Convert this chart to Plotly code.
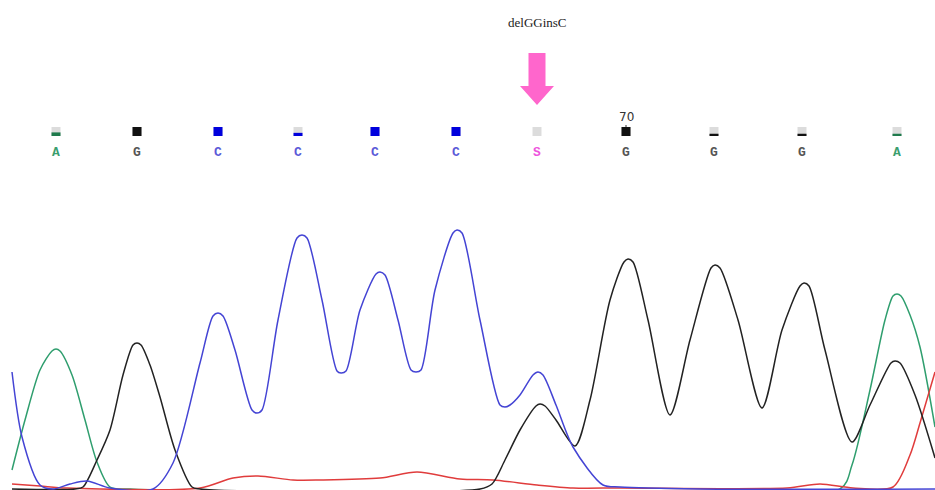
import plotly.graph_objects as go

H = 490  # plot height in intensity units (matches pixel rows)

# ---- base calls ----
base_pos = [56, 137, 218, 298, 375, 456, 537, 626, 714, 802, 897]
base_letters = ["A", "G", "C", "C", "C", "C", "S", "G", "G", "G", "A"]
base_quality = [0.4, 1.0, 1.0, 0.35, 1.0, 1.0, 0.0, 1.0, 0.25, 0.25, 0.25]
mutation_label = "delGGinsC"
position_label = "70"
position_index = 7

# ---- traces: (position, signal height) ----
blue_x = [12, 22, 40, 53, 70, 87, 110, 153, 173, 200, 213, 218, 223, 235, 252, 257, 262, 278, 297, 302, 307,
          322, 337, 341, 346, 360, 376, 380, 385, 398, 411, 416, 421, 435, 453, 457, 462, 480, 500, 505, 510,
          520, 533, 538, 543, 556, 573, 603, 620, 700, 935]
blue_y = [118, 53, 5, 1, 6, 9, 2, 1, 27, 127, 174, 177, 174, 140, 80, 77, 80, 170, 252, 255, 252,
          190, 119, 117, 119, 180, 216, 218, 215, 170, 120, 118, 120, 200, 257, 260, 257, 170, 85, 83, 85,
          95, 115, 118, 115, 85, 43, 5, 3, 1, 1]

green_x = [12, 25, 40, 52, 56, 60, 72, 85, 97, 110, 130, 840, 852, 870, 885, 893, 897, 901, 910, 920, 935]
green_y = [20, 70, 120, 139, 141, 139, 115, 70, 28, 3, 1, 1, 25, 100, 170, 194, 196, 194, 175, 143, 63]

black_x = [12, 75, 83, 97, 110, 123, 133, 137, 141, 150, 160, 175, 192, 200, 480, 492, 505, 520, 536, 540,
           545, 556, 575, 590, 610, 624, 628, 633, 648, 670, 690, 711, 715, 720, 738, 762, 782, 800, 804,
           809, 825, 852, 870, 891, 895, 900, 915, 935]
black_y = [1, 1, 3, 30, 60, 115, 145, 147, 145, 125, 93, 40, 3, 1, 1, 6, 30, 60, 84, 86,
           84, 70, 44, 90, 190, 228, 231, 228, 170, 75, 150, 222, 225, 222, 170, 82, 160, 204, 207,
           204, 140, 48, 85, 127, 129, 127, 95, 32]

red_x = [12, 40, 67, 200, 233, 258, 293, 320, 380, 417, 460, 493, 537, 573, 620, 787, 820, 853, 893, 910, 920, 935]
red_y = [6, 4, 2, 2, 12, 14, 10, 10, 12, 18, 11, 10, 5, 2, 2, 2, 6, 2, 3, 35, 67, 118]

fig = go.Figure()
traces = [
    (green_x, green_y, "#2f9e6e"),
    (red_x, red_y, "#e03c3c"),
    (black_x, black_y, "#222222"),
    (blue_x, blue_y, "#4444d4"),
]
for xs, ys, col in traces:
    fig.add_trace(go.Scatter(x=xs, y=ys, mode="lines",
                             line=dict(color=col, width=1.5, shape="spline", smoothing=0.8),
                             hoverinfo="skip", showlegend=False))

letter_colors = {"A": "#3a9e6e", "G": "#555555", "C": "#5a5ad8", "S": "#ee55dd"}
bar_colors = {"A": "#1f7a4c", "G": "#111111", "C": "#0000dd", "S": "#d9d9d9"}

shapes = []
annotations = []
sq_top = H - 127
sq_bot = H - 136
for p, b, q in zip(base_pos, base_letters, base_quality):
    shapes.append(dict(type="rect", xref="x", yref="y", x0=p - 4.5, x1=p + 4.5, y0=sq_bot, y1=sq_top,
                       fillcolor="#dcdcdc", line=dict(width=0)))
    if q > 0:
        shapes.append(dict(type="rect", xref="x", yref="y", x0=p - 4.5, x1=p + 4.5, y0=sq_bot,
                           y1=sq_bot + q * (sq_top - sq_bot),
                           fillcolor=bar_colors[b], line=dict(width=0)))
    annotations.append(dict(x=p, y=H - 152, xref="x", yref="y", text=f"<b>{b}</b>", showarrow=False,
                            font=dict(family="Liberation Mono", size=13, color=letter_colors[b])))

# position label
pp = base_pos[position_index]
annotations.append(dict(x=pp, y=H - 117, xref="x", yref="y", text=position_label, showarrow=False,
                        font=dict(family="DejaVu Sans", size=12, color="#333333")))
shapes.append(dict(type="line", xref="x", yref="y", x0=pp, x1=pp, y0=sq_top, y1=sq_top + 2,
                   line=dict(color="#333333", width=1)))

# mutation arrow + label
sp = base_pos[base_letters.index("S")]
annotations.append(dict(x=sp, y=H - 22, xref="x", yref="y", text=mutation_label, showarrow=False,
                        font=dict(family="Liberation Serif", size=13, color="#222222")))
path = (f"M {sp-8.5},{H-53} L {sp+8.5},{H-53} L {sp+8.5},{H-86} L {sp+17},{H-86} "
        f"L {sp},{H-105} L {sp-17},{H-86} L {sp-8.5},{H-86} Z")
shapes.append(dict(type="path", xref="x", yref="y", path=path, fillcolor="#ff66cc",
                   line=dict(width=0)))

fig.update_layout(
    width=935, height=490, margin=dict(l=0, r=0, t=0, b=0),
    paper_bgcolor="white", plot_bgcolor="white",
    xaxis=dict(range=[0, 935], visible=False, fixedrange=True),
    yaxis=dict(range=[0, H], visible=False, fixedrange=True),
    shapes=shapes, annotations=annotations,
)
fig.write_html("out.html", config={"displayModeBar": False})

# remove the default page margin so the figure fills the window exactly
with open("out.html", "r", encoding="utf-8") as f:
    html = f.read()
html = html.replace("<head>", "<head><style>html,body{margin:0;padding:0;overflow:hidden;}</style>", 1)
with open("out.html", "w", encoding="utf-8") as f:
    f.write(html)
